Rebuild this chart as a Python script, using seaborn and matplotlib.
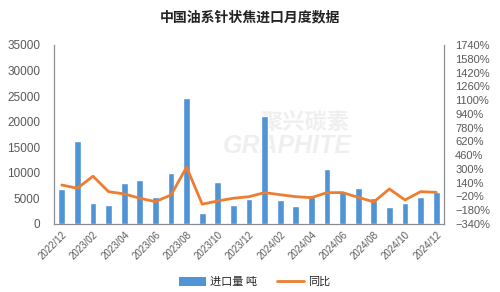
import numpy as np
import pandas as pd
import matplotlib
matplotlib.use("Agg")
import matplotlib.pyplot as plt
import seaborn as sns
from matplotlib.patches import Patch
from matplotlib.lines import Line2D

months = ["2022/12", "2023/01", "2023/02", "2023/03", "2023/04", "2023/05", "2023/06",
          "2023/07", "2023/08", "2023/09", "2023/10", "2023/11", "2023/12", "2024/01",
          "2024/02", "2024/03", "2024/04", "2024/05", "2024/06", "2024/07", "2024/08",
          "2024/09", "2024/10", "2024/11", "2024/12"]
import_tons = [6900, 16200, 4150, 3750, 8100, 8500, 5350, 9950, 24700, 2050, 8200, 3800,
               4950, 21200, 4700, 3600, 5600, 10800, 6450, 7100, 5000, 3250, 4100, 5200, 6250]
yoy_pct = [113, 75, 215, 35, 9, -41, -81, -3, 320, -110, -73, -41,
           -23, 24, 0, -23, -34, 24, 24, -30, -84, 67, -61, 35, 28]

sns.set_style("white")
plt.rcParams["font.family"] = ["Liberation Sans", "Noto Sans CJK SC", "DejaVu Sans"]
plt.rcParams["axes.unicode_minus"] = True

df = pd.DataFrame({"month": months, "tons": import_tons, "yoy": yoy_pct})
df["pos"] = np.arange(len(df))

bar_color = "#5094d6"
line_color = "#ed7d31"
grey = "#595959"

fig = plt.figure(figsize=(5, 2.92), dpi=100)

# faint watermark, behind the axes
fig.text(0.61, 0.582, "聚兴碳素", fontsize=16, color="#efefef", ha="center", va="center",
         family=["Noto Sans CJK SC"], weight="bold", zorder=-1)
fig.text(0.574, 0.50, "GRAPHITE", fontsize=18, color="#efefef", ha="center", va="center",
         style="italic", weight="bold", zorder=-1)

ax = fig.add_axes([0.108, 0.233, 0.78, 0.613])
ax.set_facecolor("none")
sns.barplot(data=df, x="month", y="tons", color=bar_color, width=0.43,
            saturation=1, ax=ax)
ax.set_xlim(-0.5, len(df) - 0.5)
ax.set_ylim(0, 35000)
ax.set_yticks(np.arange(0, 35001, 5000))
ax.set_xlabel("")
ax.set_ylabel("")
ax.set_xticks(df["pos"][::2])
ax.set_xticklabels(df["month"][::2], rotation=45, ha="right", rotation_mode="anchor")
ax.tick_params(axis="x", length=0, pad=4, labelsize=7, labelcolor=grey)
ax.tick_params(axis="y", length=0, pad=10, labelsize=8.5, labelcolor=grey)

ax2 = ax.twinx()
ax2.set_facecolor("none")
sns.lineplot(data=df, x="pos", y="yoy", color=line_color, linewidth=2, ax=ax2)
ax2.set_ylim(-340, 1740)
yt = np.arange(-340, 1741, 160)
ax2.set_yticks(yt)
ax2.set_yticklabels([f"{v}%".replace("-", "\u2212") for v in yt])
ax2.set_ylabel("")
ax2.set_xlabel("")
ax2.tick_params(axis="y", length=0, pad=8, labelsize=8, labelcolor=grey)

for a in (ax, ax2):
    a.spines["top"].set_visible(False)
    for s in ("left", "right", "bottom"):
        a.spines[s].set_color("#8c8c8c")
        a.spines[s].set_linewidth(0.8)

fig.text(0.5, 0.94, "中国油系针状焦进口月度数据", ha="center", va="center", fontsize=10,
         weight="bold", family=["Noto Sans CJK SC"], color="#222222")

handles = [Patch(facecolor=bar_color, edgecolor="none"),
           Line2D([0], [0], color=line_color, linewidth=2)]
fig.legend(handles, ["进口量 吨", "同比"], loc="center", bbox_to_anchor=(0.51, 0.034),
           ncol=2, frameon=False, handlelength=2.4, handleheight=0.9,
           handletextpad=0.4, columnspacing=1.8,
           prop={"family": ["Noto Sans CJK SC"], "size": 8})

fig.savefig("out.png", dpi=100, facecolor="white")
